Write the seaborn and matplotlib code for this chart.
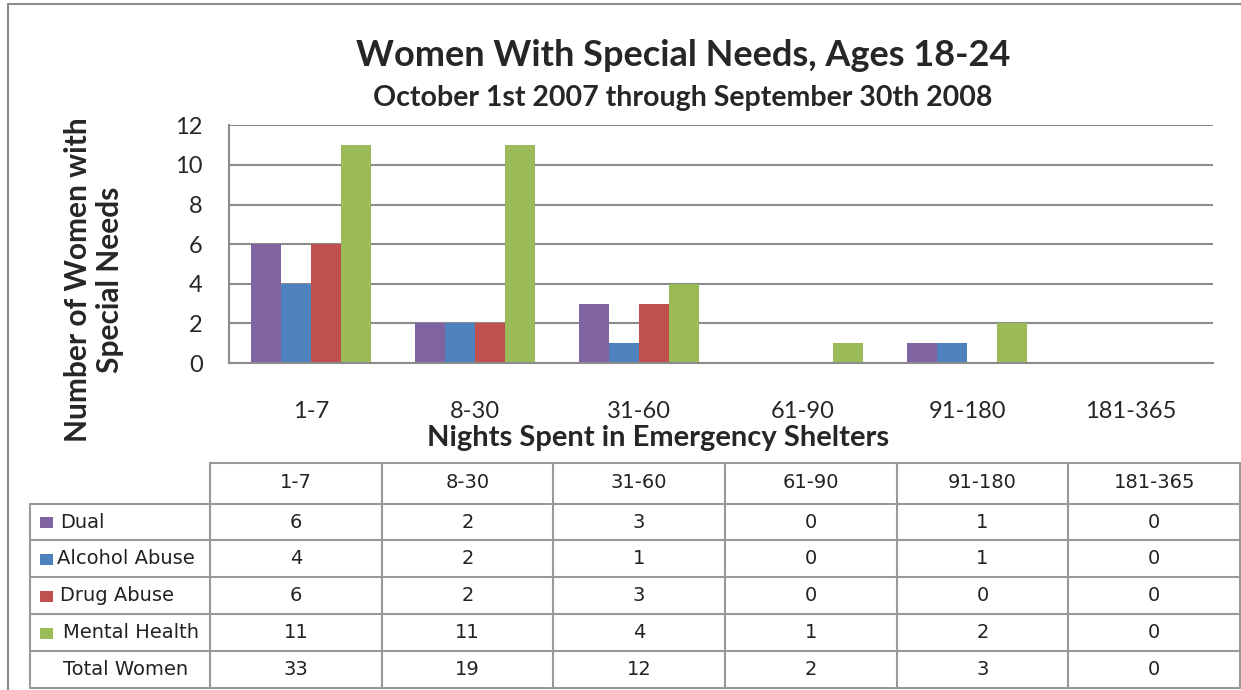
import numpy as np
import pandas as pd
import matplotlib.pyplot as plt
import seaborn as sns
from matplotlib.lines import Line2D
from matplotlib.patches import Rectangle

nights = ['1-7', '8-30', '31-60', '61-90', '91-180', '181-365']
series = ['Dual', 'Alcohol Abuse', 'Drug Abuse', 'Mental Health']
dual = [6, 2, 3, 0, 1, 0]
alcohol = [4, 2, 1, 0, 1, 0]
drug = [6, 2, 3, 0, 0, 0]
mental = [11, 11, 4, 1, 2, 0]
total = [33, 19, 12, 2, 3, 0]
colors = ['#8064A2', '#4F81BD', '#C0504D', '#9BBB59']

df = pd.DataFrame({'Nights': nights * 4,
                   'Need': np.repeat(series, len(nights)),
                   'Count': dual + alcohol + drug + mental})

sns.set_style('white')
plt.rcParams['font.family'] = ['Lato', 'DejaVu Sans']

W, H = 1241, 690
grey = '#8c8c8c'
fig = plt.figure(figsize=(W / 100, H / 100), dpi=100)

def fx(x):
    return x / W

def fy(y):
    return 1 - y / H

# outer frame (cropped on right/bottom)
fig.add_artist(Line2D([fx(8), fx(8)], [fy(4), fy(700)], color=grey, lw=1.5))
fig.add_artist(Line2D([fx(8), fx(1250)], [fy(4), fy(4)], color=grey, lw=1.5))

ax = fig.add_axes([fx(229), fy(363), 984 / W, 238 / H])
sns.barplot(data=df, x='Nights', y='Count', hue='Need', order=nights,
            hue_order=series, palette=colors, width=0.73, saturation=1,
            errorbar=None, linewidth=0, legend=False, ax=ax)
ax.set_xlim(-0.5, 5.5)
ax.set_ylim(0, 12.02)
ax.set_yticks(range(0, 13, 2))
ax.set_axisbelow(True)
ax.yaxis.grid(True, color=grey, lw=1.5)
for s in ['top', 'right']:
    ax.spines[s].set_visible(False)
for s in ['left', 'bottom']:
    ax.spines[s].set_color(grey)
    ax.spines[s].set_linewidth(1.5)
ax.set_xticks(np.arange(-0.5, 6, 1), minor=True)
ax.tick_params(axis='x', which='major', length=0, pad=27, labelsize=17)
ax.tick_params(axis='x', which='minor', length=6, color=grey, width=1.5)
ax.tick_params(axis='y', length=6, color=grey, width=1.5, pad=13, labelsize=17)
ax.set_xlabel('')
ax.set_ylabel('')

# titles and axis titles
fig.text(fx(683), fy(55), 'Women With Special Needs, Ages 18-24', ha='center',
         va='center', fontsize=26, fontweight='bold')
fig.text(fx(683), fy(98), 'October 1st 2007 through September 30th 2008',
         ha='center', va='center', fontsize=20.5, fontweight='bold')
fig.text(fx(94), fy(280), 'Number of Women with\nSpecial Needs', ha='center',
         va='center', rotation=90, fontsize=21.5, fontweight='bold',
         linespacing=1.2)
fig.text(fx(658), fy(438), 'Nights Spent in Emergency Shelters', ha='center',
         va='center', fontsize=21, fontweight='bold')

# data table
tc = '#999999'
cols = np.linspace(210, 1240, 7)
rows = [504, 540, 577, 614, 651, 688]

def hline(y, x0, x1):
    fig.add_artist(Line2D([fx(x0), fx(x1)], [fy(y), fy(y)], color=tc, lw=1.5))

def vline(x, y0, y1):
    fig.add_artist(Line2D([fx(x), fx(x)], [fy(y0), fy(y1)], color=tc, lw=1.5))

hline(463, 210, 1240)
for y in rows:
    hline(y, 30, 1240)
for x in cols:
    vline(x, 463, 688)
vline(30, 504, 688)

tfont = dict(family='DejaVu Sans', fontsize=14, color='#222222')
for j, lab in enumerate(nights):
    cx = (cols[j] + cols[j + 1]) / 2
    fig.text(fx(cx), fy(483), lab, ha='center', va='center', **tfont)

row_vals = [dual, alcohol, drug, mental, total]
row_labels = series + ['Total Women']
text_x = [60, 57, 60, 63, 63]
for i, (lab, vals) in enumerate(zip(row_labels, row_vals)):
    cy = (rows[i] + rows[i + 1]) / 2
    if i < 4:
        fig.add_artist(Rectangle((fx(40), fy(cy + 6)), 13 / W, 11 / H,
                                 transform=fig.transFigure,
                                 facecolor=colors[i], edgecolor='none'))
    fig.text(fx(text_x[i]), fy(cy), lab, ha='left', va='center', **tfont)
    for j, v in enumerate(vals):
        cx = (cols[j] + cols[j + 1]) / 2
        fig.text(fx(cx), fy(cy), str(v), ha='center', va='center', **tfont)

fig.savefig('out.png', dpi=100)
